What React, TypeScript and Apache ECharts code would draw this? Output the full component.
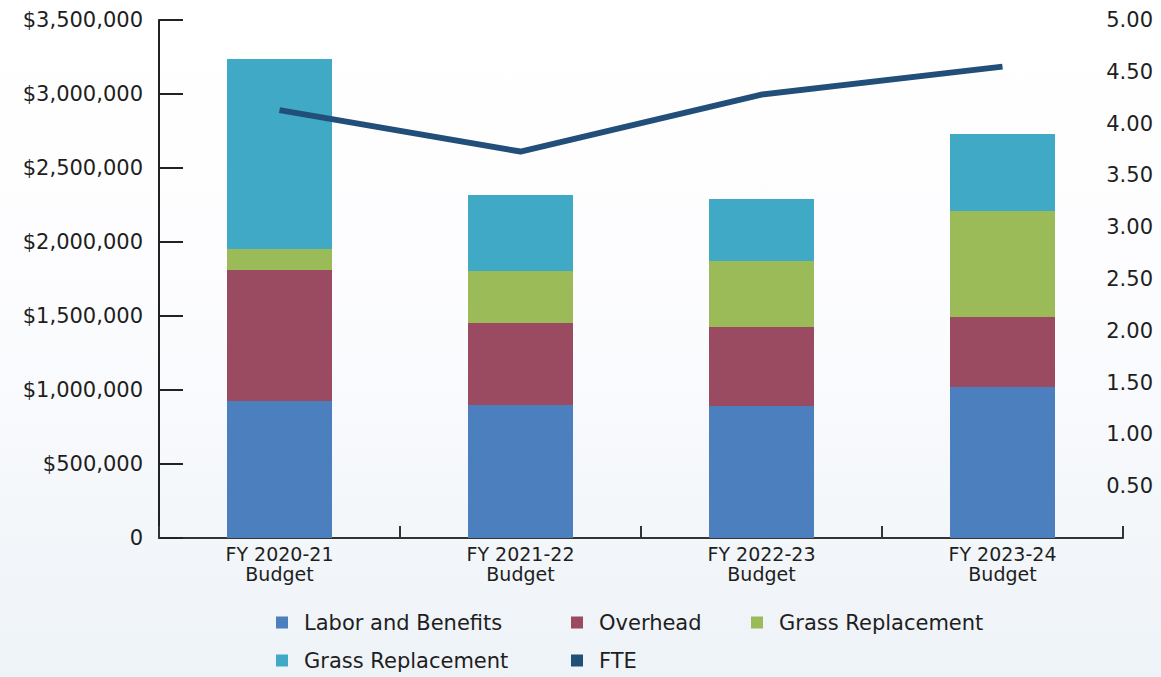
import React, { useEffect, useRef } from "react";
import * as echarts from "echarts";

const categories = ["FY 2020-21\nBudget", "FY 2021-22\nBudget", "FY 2022-23\nBudget", "FY 2023-24\nBudget"];
const laborBenefits = [926000, 899000, 892000, 1020000];
const overhead = [885000, 554000, 534000, 473000];
const grassReplacement = [142000, 351000, 446000, 716000];
const grassReplacement2 = [1283000, 514000, 419000, 521000];
const fte = [4.13, 3.73, 4.28, 4.55];

const FONT = "DejaVu Sans";
const TXT = "#1e1e1e";

export default function App() {
  const ref = useRef<HTMLDivElement>(null);
  useEffect(() => {
    if (!ref.current) return;
    const chart = echarts.init(ref.current, undefined, { renderer: "svg" });
    const legendItem = (name: string, left: number, top: number) => ({
      left,
      top,
      padding: 0,
      orient: "horizontal",
      icon: "rect",
      itemWidth: 12,
      itemHeight: 12,
      itemGap: 10,
      selectedMode: false,
      textStyle: { fontSize: 21, fontFamily: FONT, color: TXT, padding: [0, 0, 0, 11] },
      formatter: (n: string) => n.trim(),
      data: [name],
    });
    chart.setOption({
      animation: false,
      backgroundColor: {
        type: "linear",
        x: 0, y: 0, x2: 0, y2: 1,
        colorStops: [
          { offset: 0, color: "#ffffff" },
          { offset: 0.4, color: "#fdfdff" },
          { offset: 1, color: "#eef3f7" },
        ],
      },
      grid: { left: 159, right: 38, top: 20, bottom: 139, containLabel: false },
      legend: [
        legendItem("Labor and Benefits", 276, 612),
        legendItem("Overhead", 571, 612),
        legendItem("Grass Replacement", 751, 612),
        legendItem("Grass Replacement ", 276, 650),
        legendItem("FTE", 571, 650),
      ],
      xAxis: {
        type: "category",
        data: categories,
        axisLine: { show: true, lineStyle: { color: "#333", width: 2 } },
        axisTick: { show: true, inside: true, length: 12, lineStyle: { color: "#333", width: 2 } },
        axisLabel: {
          fontSize: 19,
          fontFamily: FONT,
          color: TXT,
          lineHeight: 20,
          margin: 6,
        },
        splitLine: { show: false },
      },
      yAxis: [
        {
          type: "value",
          min: 0,
          max: 3500000,
          interval: 500000,
          axisLine: { show: true, lineStyle: { color: "#222", width: 2 } },
          axisTick: { show: true, inside: true, length: 24, lineStyle: { color: "#222", width: 2 } },
          splitLine: { show: false },
          axisLabel: {
            fontSize: 21,
            fontFamily: FONT,
            color: TXT,
            margin: 16,
            formatter: (v: number) => (v === 0 ? "0" : "$" + v.toLocaleString("en-US")),
          },
        },
        {
          type: "value",
          min: 0,
          max: 5,
          interval: 0.5,
          position: "right",
          axisLine: { show: false },
          axisTick: { show: false },
          splitLine: { show: false },
          axisLabel: {
            fontSize: 21,
            fontFamily: FONT,
            color: TXT,
            align: "right",
            margin: 30,
            formatter: (v: number) => (v === 0 ? "" : v.toFixed(2)),
          },
        },
      ],
      series: [
        { name: "Labor and Benefits", type: "bar", stack: "cost", barWidth: 105, data: laborBenefits, itemStyle: { color: "#4b7fbd" } },
        { name: "Overhead", type: "bar", stack: "cost", barWidth: 105, data: overhead, itemStyle: { color: "#9a4a61" } },
        { name: "Grass Replacement", type: "bar", stack: "cost", barWidth: 105, data: grassReplacement, itemStyle: { color: "#9bbb59" } },
        { name: "Grass Replacement ", type: "bar", stack: "cost", barWidth: 105, data: grassReplacement2, itemStyle: { color: "#40aac6" } },
        {
          name: "FTE",
          type: "line",
          yAxisIndex: 1,
          data: fte,
          symbol: "none",
          lineStyle: { color: "#224f7a", width: 6 },
          itemStyle: { color: "#224f7a" },
        },
      ],
    });
    return () => chart.dispose();
  }, []);
  return (
    <div
      ref={ref}
      style={{ position: "fixed", left: 0, top: 0, width: 1161, height: 677 }}
    />
  );
}
